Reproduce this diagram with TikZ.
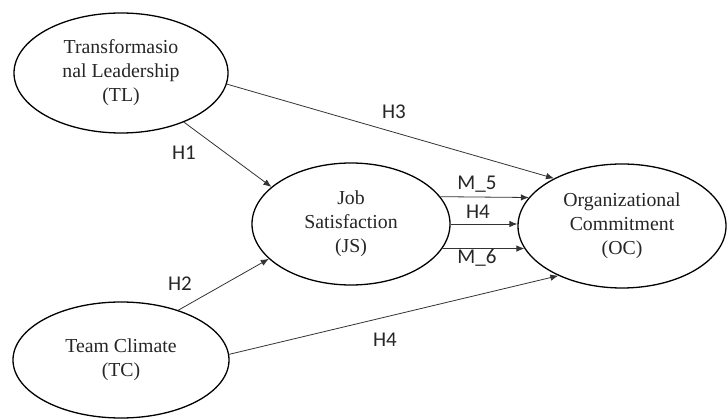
\documentclass[tikz,border=0pt]{standalone}
\usepackage{fontspec}
\setmainfont{Liberation Serif}
\newfontfamily\labfont{Carlito}
\usetikzlibrary{shapes.geometric,arrows.meta}
\begin{document}
\begin{tikzpicture}[x=1pt,y=-1pt,
  construct/.style={ellipse,draw=black,line width=1.3pt,inner sep=0pt,align=center,
    font=\fontsize{19.8}{24}\selectfont,text=black!85},
  arr/.style={draw=black!80,line width=0.8pt,-{Latex[length=8pt,width=6.5pt]}},
  hyp/.style={font=\labfont\fontsize{21}{22}\selectfont,text=black!85,inner sep=0pt}]
\useasboundingbox (0,0) rectangle (728,419);
\fill[white] (0,0) rectangle (728,419);
\node[construct,minimum width=214pt,minimum height=120pt] (TL) at (121,73) {Transformasio\\nal Leadership\\(TL)};
\node[construct,minimum width=198pt,minimum height=122pt] (JS) at (351,224) {Job\\Satisfaction\\(JS)};
\node[construct,minimum width=208pt,minimum height=124pt] (OC) at (622,226) {Organizational\\Commitment\\(OC)};
\node[construct,minimum width=216pt,minimum height=116pt] (TC) at (121,360) {Team Climate\\(TC)};
\draw[arr] (TL.-38) -- (JS.155);
\draw[arr] (TL.-6) -- (OC.145);
\draw[arr] (TC.41) -- (JS.203);
\draw[arr] (TC.3) -- (OC.218);
\draw[arr] (JS.17) -- (OC.163);
\draw[arr] (JS.east) -- (JS.east -| OC.west);
\draw[arr] (JS.-15.5) -- (OC.193.3);
\node[hyp] (h1) at (184,153) {H1};
\node[hyp] (h3) at (394,112) {H3};
\node[hyp] (h2) at (180,284) {H2};
\node[hyp] (h4b) at (385,340) {H4};
\node[hyp] (m5) at (477,184) {M\_5};
\node[hyp] (h4a) at (478,212) {H4};
\node[hyp] (m6) at (477,258) {M\_6};
\end{tikzpicture}
\end{document}
